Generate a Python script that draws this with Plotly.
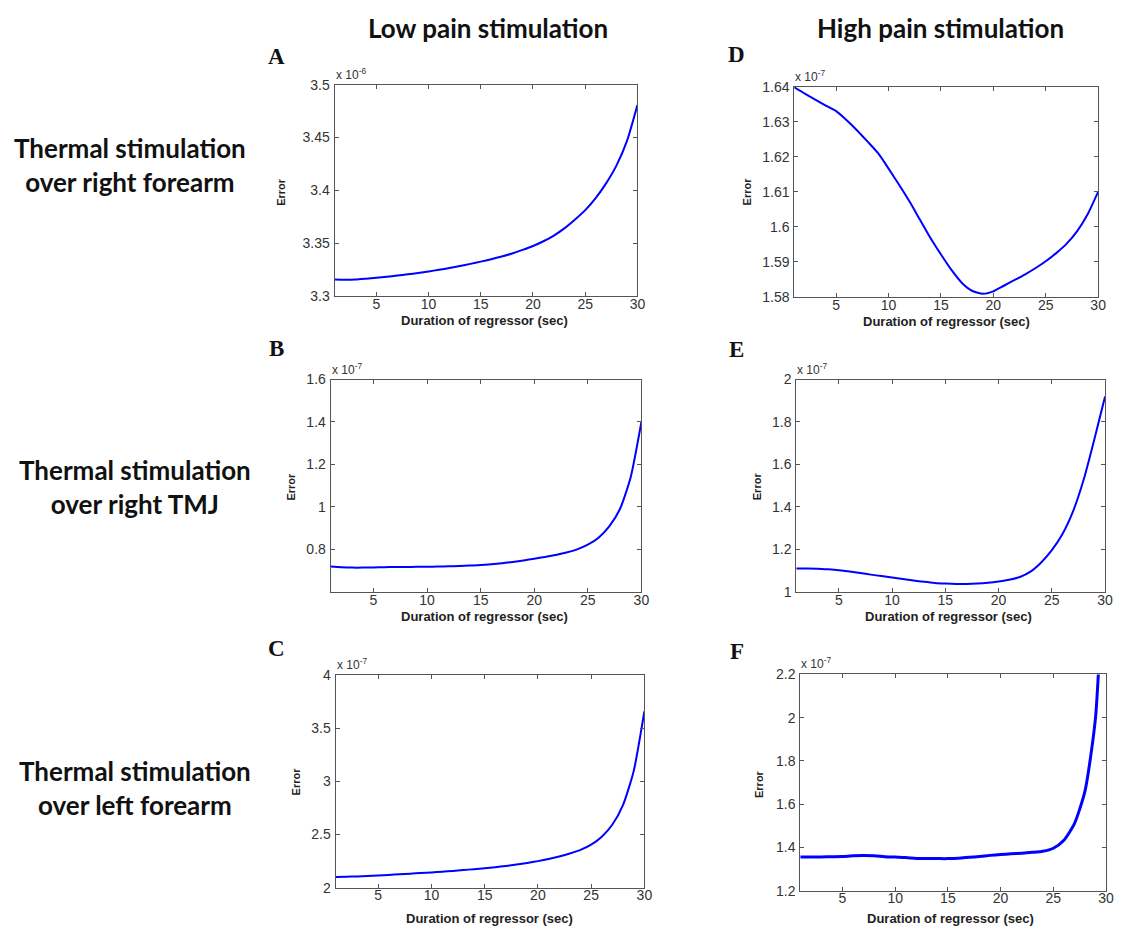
import plotly.graph_objects as go

W, H = 1123, 934

# Regressor duration (sec)
duration = list(range(1, 31))

# Fit error per duration, stored as mantissas of the axis multiplier
err_low_right_forearm = [3.3155, 3.3153, 3.3155, 3.3163, 3.3172, 3.3182, 3.3193, 3.3205, 3.3218, 3.3232,
                         3.3248, 3.3265, 3.3284, 3.3304, 3.3325, 3.3348, 3.3373, 3.3402, 3.3436, 3.3473,
                         3.3518, 3.3572, 3.3640, 3.3722, 3.3813, 3.3927, 3.4066, 3.4236, 3.4468, 3.4808]
err_low_right_tmj = [0.719, 0.716, 0.714, 0.714, 0.715, 0.716, 0.717, 0.717, 0.718, 0.718,
                     0.719, 0.720, 0.722, 0.724, 0.726, 0.730, 0.735, 0.741, 0.748, 0.756,
                     0.764, 0.773, 0.785, 0.800, 0.822, 0.855, 0.908, 0.990, 1.140, 1.400]
err_low_left_forearm = [2.100, 2.103, 2.106, 2.110, 2.115, 2.120, 2.126, 2.132, 2.138, 2.144,
                        2.151, 2.158, 2.166, 2.174, 2.183, 2.193, 2.205, 2.218, 2.233, 2.250,
                        2.270, 2.294, 2.322, 2.356, 2.405, 2.480, 2.595, 2.780, 3.100, 3.660]
err_high_right_forearm = [1.6398, 1.6380, 1.6363, 1.6346, 1.6330, 1.6304, 1.6275, 1.6243, 1.6210, 1.6166,
                          1.6120, 1.6072, 1.6020, 1.5968, 1.5921, 1.5877, 1.5840, 1.5817, 1.5809, 1.5816,
                          1.5832, 1.5848, 1.5864, 1.5882, 1.5902, 1.5925, 1.5952, 1.5988, 1.6036, 1.6100]
err_high_right_tmj = [1.110, 1.110, 1.109, 1.106, 1.102, 1.096, 1.089, 1.081, 1.074, 1.067,
                      1.060, 1.053, 1.047, 1.042, 1.039, 1.037, 1.037, 1.039, 1.043, 1.049,
                      1.057, 1.070, 1.095, 1.138, 1.196, 1.272, 1.380, 1.530, 1.720, 1.920]
err_high_left_forearm = [1.356, 1.356, 1.356, 1.357, 1.358, 1.361, 1.362, 1.361, 1.357, 1.355,
                         1.353, 1.349, 1.348, 1.348, 1.348, 1.350, 1.354, 1.358, 1.363, 1.367,
                         1.370, 1.373, 1.377, 1.382, 1.396, 1.433, 1.510, 1.660, 2.000, 3.000]

# Tick labels
x_ticks = [5, 10, 15, 20, 25, 30]
x_ticklabels = ["5", "10", "15", "20", "25", "30"]
ticks_A = [3.3, 3.35, 3.4, 3.45, 3.5]
labels_A = ["3.3", "3.35", "3.4", "3.45", "3.5"]
ticks_B = [0.8, 1.0, 1.2, 1.4, 1.6]
labels_B = ["0.8", "1", "1.2", "1.4", "1.6"]
ticks_C = [2.0, 2.5, 3.0, 3.5, 4.0]
labels_C = ["2", "2.5", "3", "3.5", "4"]
ticks_D = [1.58, 1.59, 1.60, 1.61, 1.62, 1.63, 1.64]
labels_D = ["1.58", "1.59", "1.6", "1.61", "1.62", "1.63", "1.64"]
ticks_E = [1.0, 1.2, 1.4, 1.6, 1.8, 2.0]
labels_E = ["1", "1.2", "1.4", "1.6", "1.8", "2"]
ticks_F = [1.2, 1.4, 1.6, 1.8, 2.0, 2.2]
labels_F = ["1.2", "1.4", "1.6", "1.8", "2", "2.2"]

column_titles = ["Low pain stimulation", "High pain stimulation"]
row_titles = ["Thermal stimulation<br>over right forearm",
              "Thermal stimulation<br>over right TMJ",
              "Thermal stimulation<br>over left forearm"]
x_title = "Duration of regressor (sec)"
y_title = "Error"

# Panel layout: plot box in pixels (left, top, right, bottom), letter and label anchors
panels = [
    dict(letter="A", y=err_low_right_forearm, yr=[3.3, 3.5], tv=ticks_A, tt=labels_A, exp="-6",
         box=(337, 78, 642, 293), let_xy=(278, 49), err_xy=(283, 187), xt_xy=(488, 318), lw=2),
    dict(letter="B", y=err_low_right_tmj, yr=[0.6, 1.6], tv=ticks_B, tt=labels_B, exp="-7",
         box=(333, 378, 646, 594), let_xy=(278, 346), err_xy=(293, 487), xt_xy=(488, 619), lw=2),
    dict(letter="C", y=err_low_left_forearm, yr=[2.0, 4.0], tv=ticks_C, tt=labels_C, exp="-7",
         box=(338, 679, 649, 895), let_xy=(278, 652), err_xy=(298, 787), xt_xy=(493, 926), lw=2),
    dict(letter="D", y=err_high_right_forearm, yr=[1.58, 1.64], tv=ticks_D, tt=labels_D, exp="-7",
         box=(800, 80, 1106, 294), let_xy=(742, 47), err_xy=(752, 187), xt_xy=(953, 319), lw=2),
    dict(letter="E", y=err_high_right_tmj, yr=[1.0, 2.0], tv=ticks_E, tt=labels_E, exp="-7",
         box=(802, 378, 1113, 594), let_xy=(742, 347), err_xy=(762, 487), xt_xy=(955, 619), lw=2),
    dict(letter="F", y=err_high_left_forearm, yr=[1.2, 2.2], tv=ticks_F, tt=labels_F, exp="-7",
         box=(806, 678, 1114, 898), let_xy=(742, 655), err_xy=(765, 790), xt_xy=(957, 926), lw=3),
]

TICK_FONT = dict(family="Liberation Sans, Arial, sans-serif", size=14, color="#333333")
AXIS_COLOR = "#555555"


def px(x, y):
    """Pixel position -> paper coordinates."""
    return x / W, 1 - y / H


fig = go.Figure()
annotations = []
layout = {}

for i, p in enumerate(panels, start=1):
    sfx = "" if i == 1 else str(i)
    l, t, r, b = p["box"]
    fig.add_trace(go.Scatter(
        x=duration, y=p["y"], mode="lines",
        line=dict(color="#0000ff", width=p["lw"], shape="spline", smoothing=0.6),
        xaxis="x" + sfx, yaxis="y" + sfx, showlegend=False, hoverinfo="x+y",
    ))
    common = dict(showline=True, linecolor=AXIS_COLOR, linewidth=1, mirror="ticks",
                  ticks="inside", ticklen=4, tickcolor=AXIS_COLOR, tickwidth=1,
                  showgrid=False, zeroline=False, tickfont=TICK_FONT, fixedrange=True)
    layout["xaxis" + sfx] = dict(domain=[l / W, r / W], range=[1, 30], anchor="y" + sfx,
                                 tickmode="array", tickvals=x_ticks, ticktext=x_ticklabels,
                                 ticklabelstandoff=-5, **common)
    layout["yaxis" + sfx] = dict(domain=[1 - b / H, 1 - t / H], range=p["yr"], anchor="x" + sfx,
                                 tickmode="array", tickvals=p["tv"], ticktext=p["tt"],
                                 ticklabelstandoff=1, **common)

    # exponent multiplier above the top-left corner
    ex, ey = px(l - 1, t - 1)
    annotations.append(dict(x=ex, y=ey, xref="paper", yref="paper", xanchor="left", yanchor="bottom",
                            text="x 10<sup>" + p["exp"] + "</sup>", showarrow=False,
                            font=dict(family="Liberation Sans, Arial, sans-serif", size=12, color="#333333")))
    # panel letter
    lx, ly = px(*p["let_xy"])
    annotations.append(dict(x=lx, y=ly, xref="paper", yref="paper", xanchor="center", yanchor="middle",
                            text="<b>" + p["letter"] + "</b>", showarrow=False,
                            font=dict(family="Liberation Serif, Times New Roman, serif", size=23, color="#111111")))
    # y title
    yx, yy = px(*p["err_xy"])
    annotations.append(dict(x=yx, y=yy, xref="paper", yref="paper", xanchor="center", yanchor="middle",
                            text="<b>" + y_title + "</b>", textangle=-90, showarrow=False,
                            font=dict(family="Liberation Sans, Arial, sans-serif", size=11, color="#222222")))
    # x title
    xx, xy = px(*p["xt_xy"])
    annotations.append(dict(x=xx, y=xy, xref="paper", yref="paper", xanchor="center", yanchor="middle",
                            text="<b>" + x_title + "</b>", showarrow=False,
                            font=dict(family="Liberation Sans, Arial, sans-serif", size=13, color="#222222")))

# column headers
for title, cx in zip(column_titles, [491, 947]):
    ax, ay = px(cx, 20)
    annotations.append(dict(x=ax, y=ay, xref="paper", yref="paper", xanchor="center", yanchor="middle",
                            text="<b>" + title + "</b>", showarrow=False,
                            font=dict(family="Lato, Open Sans, sans-serif", size=26, color="#111111")))

# row headers
for title, (cx, cy) in zip(row_titles, [(131, 160), (136, 487), (136, 794)]):
    ax, ay = px(cx, cy)
    annotations.append(dict(x=ax, y=ay, xref="paper", yref="paper", xanchor="center", yanchor="middle",
                            text="<b>" + title + "</b>", showarrow=False, align="center",
                            font=dict(family="Lato, Open Sans, sans-serif", size=26, color="#111111")))

fig.update_layout(
    width=W, height=H,
    margin=dict(l=0, r=0, t=0, b=0),
    paper_bgcolor="white", plot_bgcolor="white",
    annotations=annotations,
    showlegend=False,
    **layout,
)

fig.write_html("out.html", config=dict(displayModeBar=False))
